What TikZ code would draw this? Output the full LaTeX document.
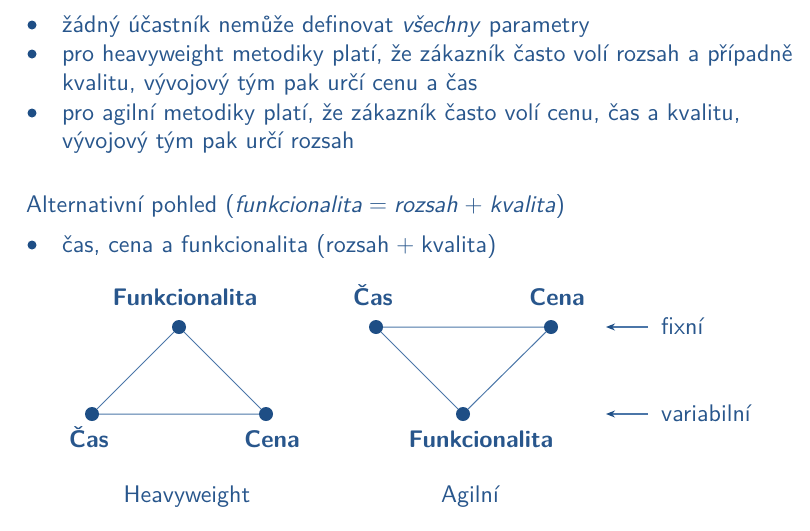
\documentclass[tikz,border=0pt]{standalone}
\usepackage{fontspec}
\setsansfont{lmsans10}[Extension=.otf, UprightFont=*-regular, ItalicFont=*-oblique, BoldFont=*-bold, BoldItalicFont=*-boldoblique]
\usetikzlibrary{arrows.meta}
\definecolor{txt}{RGB}{40,86,140}
\definecolor{dotc}{RGB}{30,78,133}
\definecolor{edgec}{RGB}{75,118,168}
\begin{document}
\begin{tikzpicture}[x=1pt,y=-1pt,
  every node/.style={font=\sffamily\fontsize{24}{29}\selectfont, text=txt, inner sep=0pt},
  txtline/.style={anchor=base west},
  bul/.style={circle, fill=dotc, minimum size=9pt, inner sep=0pt},
  vert/.style={circle, fill=dotc, minimum size=14pt, inner sep=0pt},
  lbl/.style={anchor=base, font=\sffamily\bfseries\fontsize{24}{29}\selectfont},
  captxt/.style={anchor=base},
  edgeln/.style={draw=edgec, line width=1pt},
  ptr/.style={draw=edgec, line width=1.3pt, -{Stealth[length=9pt,width=7pt,color=dotc]}}
]
\useasboundingbox (0,0) rectangle (810,530);

% bullet list
\node[bul] (b1) at (32,25) {};
\node[txtline] (t1) at (62,32) {žádný účastník nemůže definovat \textit{všechny} parametry};
\node[bul] (b2) at (32,54) {};
\node[txtline] (t2) at (62,61) {pro heavyweight metodiky platí, že zákazník často volí rozsah a případně};
\node[txtline] (t2b) at (62,90) {kvalitu, vývojový tým pak určí cenu a čas};
\node[bul] (b3) at (32,113) {};
\node[txtline] (t3) at (62,120) {pro agilní metodiky platí, že zákazník často volí cenu, čas a kvalitu,};
\node[txtline] (t3b) at (62,148) {vývojový tým pak určí rozsah};

\node[txtline] (alt) at (26,212) {Alternativní pohled (\textit{funkcionalita}\(\;=\;\)\textit{rozsah}\(\;+\;\)\textit{kvalita})};
\node[bul] (b4) at (32,245) {};
\node[txtline] (t4) at (62,252) {čas, cena a funkcionalita (rozsah\(\;+\;\)kvalita)};

% heavyweight triangle
\node[vert] (hf) at (179,327) {};
\node[vert] (hc) at (92,414) {};
\node[vert] (hn) at (266,414) {};
\draw[edgeln] (hf) -- (hc) -- (hn) -- (hf);
\node[lbl] (hfl) at (185,305) {Funkcionalita};
\node[lbl] (hcl) at (89,447) {Čas};
\node[lbl] (hnl) at (272,447) {Cena};
\node[captxt] (hcap) at (187,502) {Heavyweight};

% agile triangle
\node[vert] (ac) at (376,327) {};
\node[vert] (an) at (551,327) {};
\node[vert] (af) at (463,414) {};
\draw[edgeln] (ac) -- (an) -- (af) -- (ac);
\node[lbl] (acl) at (373,305) {Čas};
\node[lbl] (anl) at (557,305) {Cena};
\node[lbl] (afl) at (481,447) {Funkcionalita};
\node[captxt] (acap) at (470,502) {Agilní};

% fixed / variable markers
\node[txtline] (fix) at (661,334) {fixní};
\node[txtline] (var) at (661,421) {variabilní};
\coordinate (fixs) at (648,327);
\coordinate (fixe) at (606,327);
\coordinate (vars) at (648,414);
\coordinate (vare) at (606,414);
\draw[ptr] (fixs) -- (fixe);
\draw[ptr] (vars) -- (vare);
\end{tikzpicture}
\end{document}
